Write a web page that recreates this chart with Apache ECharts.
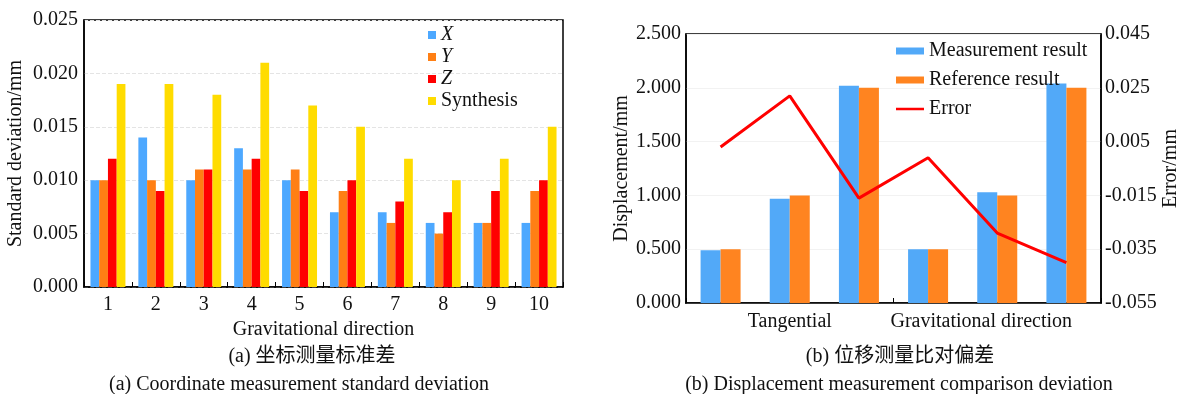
<!DOCTYPE html>
<html>
<head>
<meta charset="utf-8">
<script src="https://cdn.jsdelivr.net/npm/echarts@6/dist/echarts.min.js"></script>
<style>
html,body{margin:0;padding:0;background:#fff;}
#c{width:1182px;height:394px;}
</style>
</head>
<body>
<div id="c"></div>
<script>
// ---------- Data (a) ----------
const catsA = ['1','2','3','4','5','6','7','8','9','10'];
const seriesNamesA = ['X','Y','Z','Synthesis'];
const valX = [0.010,0.014,0.010,0.013,0.010,0.007,0.007,0.006,0.006,0.006];
const valY = [0.010,0.010,0.011,0.011,0.011,0.009,0.006,0.005,0.006,0.009];
const valZ = [0.012,0.009,0.011,0.012,0.009,0.010,0.008,0.007,0.009,0.010];
const valSyn = [0.019,0.019,0.018,0.021,0.017,0.015,0.012,0.010,0.012,0.015];

// ---------- Data (b) ----------
const catsB = ['T1','T2','T3','G1','G2','G3'];
const groupLabelsB = ['Tangential','Gravitational direction'];
const measured = [0.49,0.97,2.02,0.50,1.03,2.04];
const reference = [0.50,1.00,2.00,0.50,1.00,2.00];
const errorVals = [0.003,0.022,-0.016,-0.001,-0.029,-0.040];
const errTicks = [-0.055,-0.035,-0.015,0.005,0.025,0.045];

// ---------- Captions ----------
const capA1 = '(a) 坐标测量标准差';
const capA2 = '(a) Coordinate measurement standard deviation';
const capB1 = '(b) 位移测量比对偏差';
const capB2 = '(b) Displacement measurement comparison deviation';

const FF = "'Liberation Serif','Times New Roman','Noto Sans CJK SC',serif";
const colors = {X:'#4DA8FF', Y:'#FF7F14', Z:'#FF0000', Synthesis:'#FFDC00'};
const colB = {m:'#52A9F8', r:'#FF8420', e:'#FF0000'};
const txt = '#111';
const lineIcon = 'path://M0,0L0.01,0L0.01,0.01Z M0,2.2L28,2.2L28,4.8L0,4.8Z M0,7L0.01,7L0.01,6.99Z';

const chart = echarts.init(document.getElementById('c'), null, {renderer:'canvas'});

const valsA = [valX, valY, valZ, valSyn];

const option = {
  animation:false,
  backgroundColor:'#fff',
  textStyle:{fontFamily:FF},
  grid:[
    {left:84, top:20, right:619, bottom:107, show:true, borderColor:'#000', borderWidth:1.5, backgroundColor:'transparent'},
    {left:686, top:34, right:77, bottom:91, show:true, borderColor:'#000', borderWidth:1.5, backgroundColor:'transparent'}
  ],
  legend:[
    {
      orient:'vertical', left:423, top:20, itemWidth:8, itemHeight:8, itemGap:2,
      icon:'rect',
      textStyle:{fontFamily:FF, fontSize:20, color:txt},
      data:[
        {name:'X', textStyle:{fontStyle:'italic'}},
        {name:'Y', textStyle:{fontStyle:'italic'}},
        {name:'Z', textStyle:{fontStyle:'italic'}},
        {name:'Synthesis'}
      ]
    },
    {
      orient:'vertical', left:891, top:36, itemWidth:28, itemHeight:7, itemGap:9,
      textStyle:{fontFamily:FF, fontSize:20, color:txt},
      data:[
        {name:'Measurement result', icon:'rect'},
        {name:'Reference result', icon:'rect'},
        {name:'Error', icon:lineIcon}
      ]
    }
  ],
  xAxis:[
    {
      type:'category', gridIndex:0, data:catsA,
      name:'Gravitational direction', nameLocation:'middle', nameGap:28,
      nameTextStyle:{fontFamily:FF, fontSize:20, color:txt},
      axisLine:{onZero:false, lineStyle:{color:'#000', width:1.5}},
      axisTick:{show:true, inside:true, length:5, interval:0, lineStyle:{color:'#000'}},
      axisLabel:{fontFamily:FF, fontSize:20, color:txt, margin:8, interval:0},
      splitLine:{show:false}
    },
    {
      type:'category', gridIndex:1, data:catsB,
      axisLine:{onZero:false, lineStyle:{color:'#000', width:1.5}},
      axisTick:{show:false},
      axisLabel:{show:false},
      splitLine:{show:false}
    },
    {
      type:'category', gridIndex:1, data:groupLabelsB, position:'bottom',
      axisLine:{show:false, onZero:false},
      axisTick:{show:true, inside:true, length:5, interval:0, lineStyle:{color:'#000'}},
      axisLabel:{fontFamily:FF, fontSize:20, color:txt, margin:9, interval:0, hideOverlap:false,
        formatter:function(v,i){ return i===1 ? '{g|'+v+'}' : v; },
        rich:{g:{fontFamily:FF, fontSize:20, color:txt, padding:[0,32,0,0]}}
      },
      splitLine:{show:false}
    }
  ],
  yAxis:[
    {
      type:'value', gridIndex:0, min:0, max:0.025, interval:0.005,
      name:'Standard deviation/mm', nameLocation:'middle', nameGap:58, nameRotate:90,
      nameTextStyle:{fontFamily:FF, fontSize:20, color:txt},
      axisLine:{show:true, onZero:false, lineStyle:{color:'#000', width:1.5}},
      axisTick:{show:false},
      axisLabel:{fontFamily:FF, fontSize:20, color:txt, margin:6,
        formatter:function(v){ return v.toFixed(3); }},
      splitLine:{show:true, lineStyle:{color:'#e4e4e4', type:'dashed'}}
    },
    {
      type:'value', gridIndex:1, min:0, max:2.5, interval:0.5,
      name:'Displacement/mm', nameLocation:'middle', nameGap:49, nameRotate:90,
      nameTextStyle:{fontFamily:FF, fontSize:20, color:txt},
      axisLine:{show:true, onZero:false, lineStyle:{color:'#000', width:1.5}},
      axisTick:{show:false},
      axisLabel:{fontFamily:FF, fontSize:20, color:txt, margin:5,
        formatter:function(v){ return v.toFixed(3); }},
      splitLine:{show:true, lineStyle:{color:'#f2f2f2'}}
    },
    {
      type:'value', gridIndex:1, position:'right', min:-0.055, max:0.045,
      name:'Error/mm', nameLocation:'middle', nameGap:60, nameRotate:90,
      nameTextStyle:{fontFamily:FF, fontSize:20, color:txt},
      axisLine:{show:true, onZero:false, lineStyle:{color:'#000', width:1.5}},
      axisTick:{show:false, customValues:errTicks},
      axisLabel:{fontFamily:FF, fontSize:20, color:txt, margin:4, customValues:errTicks,
        formatter:function(v){ return v.toFixed(3); }},
      splitLine:{show:false}
    }
  ],
  series: seriesNamesA.map(function(n,i){
    return {
      name:n, type:'bar', xAxisIndex:0, yAxisIndex:0,
      data:valsA[i], barGap:'0%', barCategoryGap:'27%',
      itemStyle:{color:colors[n]}
    };
  }).concat([
    {name:'Measurement result', type:'bar', xAxisIndex:1, yAxisIndex:1, data:measured,
      barWidth:20, barGap:'0%', itemStyle:{color:colB.m}},
    {name:'Reference result', type:'bar', xAxisIndex:1, yAxisIndex:1, data:reference,
      barWidth:20, barGap:'0%', itemStyle:{color:colB.r}},
    {name:'Error', type:'line', xAxisIndex:1, yAxisIndex:2, data:errorVals,
      symbol:'none', lineStyle:{color:colB.e, width:3}, itemStyle:{color:colB.e}, z:5}
  ]),
  graphic:[
    {type:'text', x:312, y:357, style:{text:capA1, font:"20px "+FF, fill:txt, textAlign:'center', textVerticalAlign:'middle'}},
    {type:'text', x:299, y:385, style:{text:capA2, font:"20px "+FF, fill:txt, textAlign:'center', textVerticalAlign:'middle'}},
    {type:'text', x:900, y:357, style:{text:capB1, font:"20px "+FF, fill:txt, textAlign:'center', textVerticalAlign:'middle'}},
    {type:'text', x:899, y:385, style:{text:capB2, font:"20px "+FF, fill:txt, textAlign:'center', textVerticalAlign:'middle'}}
  ]
};
chart.setOption(option);
</script>
</body>
</html>
